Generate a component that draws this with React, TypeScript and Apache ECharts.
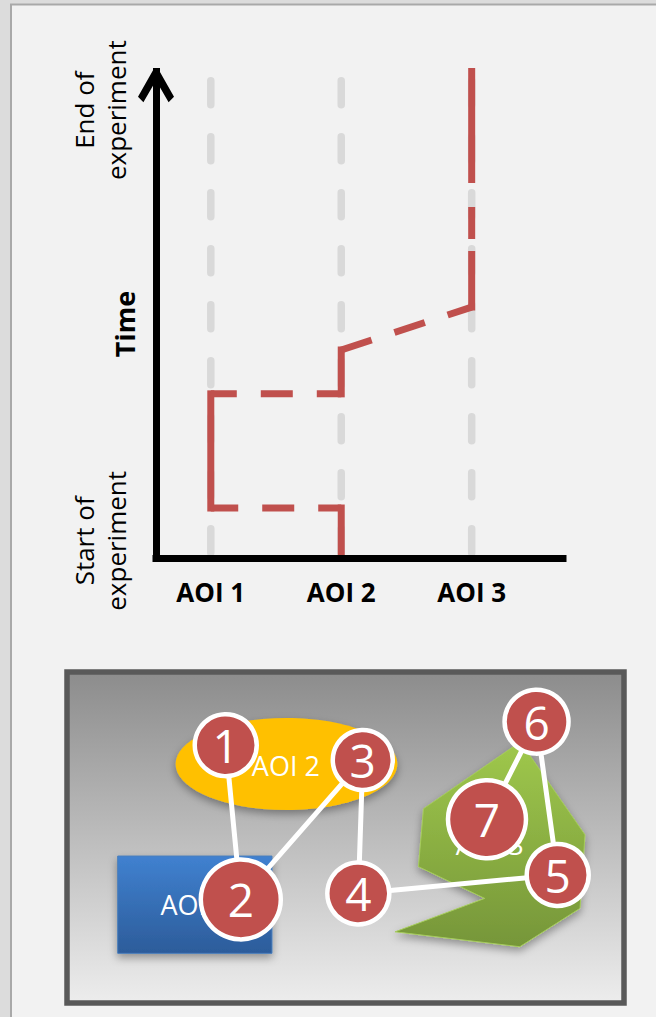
import React, { useEffect, useRef } from 'react';
import * as echarts from 'echarts';

// ---------- Top chart: scanpath over time ----------
const aoiNames = ['AOI 1', 'AOI 2', 'AOI 3'];
const aoiPositions = [1, 2, 3];
const timeLabelValues = [3.5, 91.4];
const timeLabels = ['Start of\nexperiment', 'End of\nexperiment'];
const guideTop = 97.4;

// visits of the scanpath: AOI, start time, end time
const visitAoi = [2, 1, 2, 3];
const visitStart = [0, 10.2, 33.5, 51.2];
const visitEnd = [10.2, 33.5, 42.45, 99.3];

// ---------- Bottom chart: fixations on the stimulus (0-100 units) ----------
const fixLabels = ['1', '2', '3', '4', '5', '6', '7'];
const fixX = [28.5, 31.2, 53.1, 52.3, 88.1, 84.3, 75.4];
const fixY = [22.1, 68.7, 26.6, 66.9, 61.3, 15.0, 44.5];
const fixSize = [62, 80, 60, 62, 62, 64, 78];

const aoiLabelX = [22.9, 39.3, 75.9];
const aoiLabelY = [70.3, 28.1, 52.0];
const aoi1Rect = [9.1, 55.6, 36.8, 85.0]; // x0, y0, x1, y1
const aoi2Ellipse = [39.4, 27.8, 19.9, 13.9]; // cx, cy, rx, ry
const aoi3PolyX = [81.4, 93.0, 92.1, 81.3, 58.9, 75.0, 63.1, 64.0];
const aoi3PolyY = [21.1, 49.2, 71.4, 83.0, 78.5, 68.4, 58.8, 41.3];

const RED = '#c0504d';
const FONT = 'Open Sans';
const transitionDashOffsets = [9, 6, 0];
const dwellDash: any[] = ['solid', 'solid', 'solid', [52.5, 19, 25, 31, 400]];

export default function App() {
  const ref = useRef<HTMLDivElement>(null);

  useEffect(() => {
    document.body.style.margin = '0';
    const chart = echarts.init(ref.current!, null, { renderer: 'svg' });

    const guideSeries = aoiPositions.map((p) => ({
      type: 'line',
      xAxisIndex: 0,
      yAxisIndex: 0,
      data: [[p, guideTop], [p, 0]],
      symbol: 'none',
      silent: true,
      clip: false,
      z: 1,
      lineStyle: { color: '#d9d9d9', width: 7.5, type: [24, 32], cap: 'round' },
    }));

    const dwellSeries = visitAoi.map((a, i) => ({
      type: 'line',
      xAxisIndex: 0,
      yAxisIndex: 0,
      data: [[a, visitStart[i]], [a, visitEnd[i]]],
      symbol: 'none',
      silent: true,
      clip: false,
      z: 3,
      lineStyle: { color: RED, width: 7, cap: 'square', type: dwellDash[i] },
    }));

    const transitionSeries = visitAoi.slice(0, -1).map((a, i) => ({
      type: 'line',
      xAxisIndex: 0,
      yAxisIndex: 0,
      data: [[a, visitEnd[i]], [visitAoi[i + 1], visitStart[i + 1]]],
      symbol: 'none',
      silent: true,
      clip: false,
      z: 3,
      lineStyle: { color: RED, width: 7, type: [32, 24], dashOffset: transitionDashOffsets[i], cap: 'butt' },
    }));

    const aoiSeries = {
      type: 'custom',
      xAxisIndex: 1,
      yAxisIndex: 1,
      silent: true,
      clip: false,
      z: 2,
      data: aoiLabelX.map((x, i) => [x, aoiLabelY[i]]),
      encode: { x: 0, y: 1 },
      renderItem: (params: any, api: any) => {
        const i = params.dataIndex;
        const shadow = { shadowBlur: 8, shadowOffsetY: 4, shadowColor: 'rgba(0,0,0,0.35)' };
        let shape: any;
        if (i === 0) {
          const p0 = api.coord([aoi1Rect[0], aoi1Rect[1]]);
          const p1 = api.coord([aoi1Rect[2], aoi1Rect[3]]);
          shape = {
            type: 'rect',
            shape: { x: Math.min(p0[0], p1[0]), y: Math.min(p0[1], p1[1]), width: Math.abs(p1[0] - p0[0]), height: Math.abs(p1[1] - p0[1]) },
            style: {
              fill: new echarts.graphic.LinearGradient(0, 0, 0, 1, [
                { offset: 0, color: '#4081d0' },
                { offset: 1, color: '#2c5c9a' },
              ]),
              stroke: '#4a7ebb',
              lineWidth: 1,
              ...shadow,
            },
          };
        } else if (i === 1) {
          const c = api.coord([aoi2Ellipse[0], aoi2Ellipse[1]]);
          const px = api.coord([aoi2Ellipse[0] + aoi2Ellipse[2], aoi2Ellipse[1]]);
          const py = api.coord([aoi2Ellipse[0], aoi2Ellipse[1] + aoi2Ellipse[3]]);
          shape = {
            type: 'ellipse',
            shape: { cx: c[0], cy: c[1], rx: Math.abs(px[0] - c[0]), ry: Math.abs(py[1] - c[1]) },
            style: { fill: '#ffc000', ...shadow },
          };
        } else {
          const pts = aoi3PolyX.map((x, k) => api.coord([x, aoi3PolyY[k]]));
          shape = {
            type: 'polygon',
            shape: { points: pts },
            style: {
              fill: new echarts.graphic.LinearGradient(0, 0, 0, 1, [
                { offset: 0, color: '#9fc84c' },
                { offset: 1, color: '#769639' },
              ]),
              stroke: '#a5cc5a',
              lineWidth: 1,
              ...shadow,
            },
          };
        }
        const lp = api.coord([aoiLabelX[i], aoiLabelY[i]]);
        return {
          type: 'group',
          children: [
            shape,
            {
              type: 'text',
              x: lp[0],
              y: lp[1],
              style: {
                text: aoiNames[i],
                fill: '#fff',
                font: `27px "${FONT}"`,
                align: 'center',
                verticalAlign: 'middle',
              },
            },
          ],
        };
      },
    };

    const fixationSeries = {
      type: 'line',
      xAxisIndex: 1,
      yAxisIndex: 1,
      silent: true,
      clip: false,
      z: 5,
      symbol: 'circle',
      showSymbol: true,
      showAllSymbol: true,
      data: fixX.map((x, i) => ({ value: [x, fixY[i]], symbolSize: fixSize[i] })),
      lineStyle: { color: '#ffffff', width: 5 },
      itemStyle: { color: RED, borderColor: '#ffffff', borderWidth: 4.5, opacity: 1 },
      label: {
        show: true,
        position: 'inside',
        formatter: (p: any) => fixLabels[p.dataIndex],
        color: '#ffffff',
        fontSize: 46,
        fontFamily: FONT,
      },
    };

    const findLabel = (v: number) => {
      let best = -1;
      let d = Infinity;
      timeLabelValues.forEach((t, k) => {
        if (Math.abs(t - v) < d) {
          d = Math.abs(t - v);
          best = k;
        }
      });
      return d < 0.01 ? timeLabels[best] : '';
    };

    chart.setOption({
      animation: false,
      backgroundColor: '#dcdcdc',
      graphic: {
        elements: [
          {
            type: 'rect',
            z: -100,
            silent: true,
            shape: { x: 11, y: 4.5, width: 700, height: 1100 },
            style: { fill: '#f2f2f2', stroke: '#a9a9a9', lineWidth: 2 },
          },
        ],
      },
      grid: [
        { left: 156, top: 68, width: 407, height: 490, outerBoundsMode: 'none', containLabel: false },
        {
          left: 67,
          top: 672,
          width: 557,
          height: 331,
          show: true,
          outerBoundsMode: 'none',
          containLabel: false,
          backgroundColor: {
            type: 'linear',
            x: 0,
            y: 0,
            x2: 0,
            y2: 1,
            colorStops: [
              { offset: 0, color: '#8c8c8c' },
              { offset: 1, color: '#ededed' },
            ],
          },
          borderColor: '#595959',
          borderWidth: 5.5,
        },
      ],
      xAxis: [
        {
          gridIndex: 0,
          type: 'value',
          min: 0.58,
          max: 3.7,
          z: 6,
          axisLine: { show: true, lineStyle: { color: '#000', width: 7, cap: 'square' } },
          axisTick: { show: false },
          splitLine: { show: false },
          axisLabel: {
            customValues: aoiPositions,
            formatter: (v: number) => aoiNames[Math.round(v) - 1] || '',
            fontSize: 26,
            fontWeight: 'bold',
            fontFamily: FONT,
            color: '#000',
            margin: 21,
          },
        },
        { gridIndex: 1, type: 'value', min: 0, max: 100, show: false },
      ],
      yAxis: [
        {
          gridIndex: 0,
          type: 'value',
          min: 0,
          max: 100,
          z: 6,
          axisLine: {
            show: true,
            symbol: ['none', 'path://M17,0 L23,0 L40,30 L34,36 L20,12 L6,36 L0,30 Z'],
            symbolSize: [36, 36],
            symbolOffset: [0, -18],
            lineStyle: { color: '#000', width: 7, cap: 'butt' },
          },
          axisTick: { show: false },
          splitLine: { show: false },
          name: 'Time',
          nameLocation: 'middle',
          nameRotate: 90,
          nameGap: 18,
          nameMoveOverlap: false,
          nameTextStyle: {
            fontSize: 27,
            fontWeight: 'bold',
            fontFamily: FONT,
            color: '#000',
            padding: [0, 22, 0, 0],
          },
          axisLabel: {
            customValues: timeLabelValues,
            formatter: (v: number) => findLabel(v),
            rotate: 90,
            margin: 24,
            fontSize: 26,
            lineHeight: 32,
            fontFamily: FONT,
            color: '#000',
          },
        },
        { gridIndex: 1, type: 'value', min: 0, max: 100, inverse: true, show: false },
      ],
      series: [...guideSeries, ...dwellSeries, ...transitionSeries, aoiSeries, fixationSeries],
    });

    return () => chart.dispose();
  }, []);

  return <div ref={ref} style={{ width: 656, height: 1017 }} />;
}
